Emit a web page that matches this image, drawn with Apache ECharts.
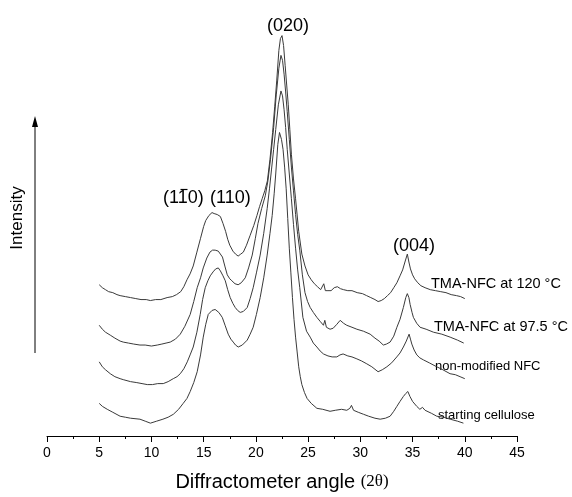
<!DOCTYPE html>
<html>
<head>
<meta charset="utf-8">
<script src="https://cdn.jsdelivr.net/npm/echarts@6/dist/echarts.min.js"></script>
<style>html,body{margin:0;padding:0;background:#fff}#c{width:572px;height:497px}</style>
</head>
<body>
<div id="c"></div>
<script>
// Diffraction angle (2θ) and intensity (a.u., curves offset vertically)
const theta120 = [5.0,5.3,5.6,5.9,6.3,6.7,7.0,7.5,8.0,8.5,9.0,9.5,9.9,10.4,10.9,11.5,12.0,12.4,12.8,13.1,13.4,13.7,14.0,14.35,14.7,15.0,15.2,15.5,15.8,16.0,16.3,16.6,16.85,17.1,17.3,17.5,17.8,18.05,18.3,18.55,18.8,19.1,19.45,19.8,20.1,20.35,20.6,20.85,21.1,21.35,21.6,21.8,22.0,22.2,22.35,22.5,22.65,22.8,22.95,23.1,23.25,23.4,23.6,23.8,24.1,24.4,24.7,25.0,25.3,25.6,25.9,26.2,26.35,26.5,26.65,26.9,27.2,27.5,27.8,28.1,28.4,28.8,29.2,29.7,30.2,30.6,31.0,31.4,31.7,32.0,32.3,32.6,32.9,33.2,33.5,33.8,34.05,34.3,34.5,34.65,34.8,35.0,35.2,35.5,35.8,36.2,36.7,37.2,37.7,38.2,38.7,39.2,39.6,40.0];
const int120 = [153,150,148,146,145,143,142,141,140,139,138,138,137,138,138,140,141,143,146,151,158,164,172,186,200,212,218,223,226,225,224,222,215,207,199,193,187,184,182,184,186,193,203,213,223,232,240,248,258,280,307,333,360,390,402,405,395,375,355,335,310,285,260,240,207,184,172,163,158,154,151,148,150,154,147,147,147,150,151,149,148,147,147,145,144,142,140,138,136,137,139,142,145,150,155,162,168,177,184,176,169,163,159,155,152,150,148,147,146,145,143,142,141,139];

const theta975 = [5.0,5.3,5.6,6.06,6.5,7.0,7.3,7.8,8.3,8.9,9.4,10.0,10.56,11.0,11.4,11.8,12.3,12.76,13.2,13.71,14.05,14.38,14.7,14.96,15.3,15.6,15.85,16.1,16.4,16.8,17.05,17.26,17.5,17.7,18.0,18.3,18.6,18.98,19.3,19.65,19.95,20.2,20.55,20.9,21.15,21.4,21.7,21.95,22.2,22.4,22.55,22.7,22.85,23.0,23.2,23.4,23.6,23.8,24.0,24.2,24.45,24.7,24.95,25.2,25.5,25.84,26.15,26.47,26.6,26.75,27.1,27.4,27.75,28.07,28.4,28.7,29.2,29.67,30.3,30.94,31.4,31.8,32.2,32.5,32.85,33.2,33.5,33.8,34.12,34.35,34.5,34.65,34.77,34.95,35.08,35.4,35.72,36.3,37.0,37.8,38.6,39.3,39.9];
const int975 = [112,108,105,102,99,96,95,94,93,92,92,91,92,93,94,95,98,103,111,123,136,150,160,170,180,186,188,188,187,181,171,163,159,157,154,153,155,160,170,183,200,215,230,243,258,280,312,345,372,385,380,366,348,328,300,272,248,224,204,188,163,145,136,130,125,120,116,112,117,110,108,109,113,117,114,112,110,108,106,103,99,96,92,93,95,101,110,118,130,140,144,140,133,125,120,114,110,108,105,103,100,97,94];

const thetaNFC = [5.0,5.3,5.6,6.06,6.5,7.0,7.3,8.0,8.6,9.1,9.6,10.1,10.6,11.13,11.6,12.09,12.45,12.76,13.1,13.43,13.7,14.0,14.35,14.67,14.9,15.15,15.4,15.63,15.9,16.15,16.4,16.6,16.85,17.07,17.3,17.54,17.8,18.02,18.25,18.5,18.8,19.17,19.45,19.74,20.05,20.41,20.75,21.08,21.3,21.5,21.7,21.9,22.15,22.4,22.55,22.7,22.85,23.0,23.2,23.4,23.6,23.8,24.0,24.2,24.5,24.85,25.2,25.5,25.84,26.15,26.47,26.9,27.3,27.75,28.05,28.35,28.8,29.2,29.67,30.1,30.62,31.1,31.7,32.1,32.54,33.0,33.49,33.8,34.12,34.4,34.67,34.8,34.93,35.15,35.41,35.7,36.04,36.6,37.32,37.9,38.59,39.1,39.55,40.0];
const intNFC = [75,70,67,63,60,58,57,55,54,53,52,52,53,53,55,58,60,63,68,75,82,90,105,123,138,150,157,162,166,169,170,167,162,157,148,140,134,130,127,125,126,130,139,150,165,183,205,230,250,270,290,310,335,349,344,330,312,290,265,240,214,190,168,150,120,106,100,94,90,86,83,81,80,80,82,83,81,80,78,76,73,70,65,67,70,74,80,84,90,96,103,98,93,87,82,79,77,74,70,67,63,62,60,58];

const thetaCell = [5.0,5.3,5.77,6.3,7.0,7.5,8.0,8.9,9.4,9.9,10.5,11.1,11.6,12.1,12.6,13.04,13.4,13.71,14.05,14.38,14.7,14.96,15.2,15.44,15.8,16.1,16.45,16.78,17.05,17.35,17.6,17.83,18.05,18.31,18.7,19.17,19.45,19.74,20.05,20.41,20.75,21.08,21.35,21.56,21.75,21.9,22.1,22.26,22.45,22.6,22.75,22.9,23.05,23.2,23.35,23.5,23.65,23.8,23.95,24.1,24.25,24.4,24.65,24.9,25.3,25.84,26.4,27.1,27.6,28.2,28.7,29.0,29.15,29.35,29.8,30.3,30.8,31.4,31.9,32.4,32.85,33.2,33.5,33.8,34.12,34.35,34.55,34.75,35.0,35.4,35.7,35.95,36.2,36.8,37.32,38.0,38.6,39.3,39.87];
const intCell = [33,30,27,24,20,19,18,17,15,13,15,17,19,22,27,33,38,45,54,65,82,100,113,123,127,128,125,120,112,103,98,95,92,90,92,97,103,110,123,140,160,183,205,223,245,265,295,307,300,290,272,250,220,190,165,140,118,100,85,70,60,52,44,38,33,28,27,25,26,27,26,28,31,26,24,22,20,18,17,18,20,25,30,35,40,43,45,40,35,30,27,29,26,23,20,19,17,15,13];

const xTicks = [0,5,10,15,20,25,30,35,40,45];
const seriesNames = ['TMA-NFC at 120 °C','TMA-NFC at 97.5 °C','non-modified NFC','starting cellulose'];

function pairs(xs, ys){ return xs.map((x,i)=>[x, ys[i]]); }
const sets = [pairs(theta120,int120), pairs(theta975,int975), pairs(thetaNFC,intNFC), pairs(thetaCell,intCell)];

const FONT = "'Liberation Sans', Arial, Helvetica, sans-serif";
const chart = echarts.init(document.getElementById('c'), null, {renderer:'canvas'});

function txt(text, x, y, size, align){
  return {type:'text', x:x, y:y, style:{text:text, font: size+'px '+FONT, fill:'#000',
    align: align||'left', verticalAlign:'middle', textAlign: align||'left', textVerticalAlign:'middle'}};
}

chart.setOption({
  animation:false,
  backgroundColor:'#fff',
  grid:{left:47, right:55, top:1, bottom:56},
  xAxis:{
    type:'value', min:xTicks[0], max:xTicks[xTicks.length-1], interval:5,
    axisLine:{show:true, lineStyle:{color:'#000', width:1}},
    axisTick:{show:true, length:6, lineStyle:{color:'#000'}},
    minorTick:{show:true, splitNumber:2, length:3, lineStyle:{color:'#000'}},
    splitLine:{show:false},
    axisLabel:{color:'#000', fontSize:14, fontFamily:FONT, margin:10},
    name:'{a|Diffractometer angle }{b|(2θ)}',
    nameLocation:'middle', nameGap:36,
    nameTextStyle:{rich:{
      a:{fontSize:20, fontFamily:FONT, color:'#000'},
      b:{fontSize:17, fontFamily:"'Liberation Serif','Times New Roman',serif", color:'#000'}
    }}
  },
  yAxis:{type:'value', min:0, max:440, show:false},
  series: sets.map((d,i)=>({
    name: seriesNames[i], type:'line', data:d, showSymbol:false, symbol:'none',
    lineStyle:{color:'#3a3a3a', width:1}, z:2
  })),
  graphic:[
    {type:'line', shape:{x1:35, y1:353, x2:35, y2:124}, style:{stroke:'#000', lineWidth:1}},
    {type:'polygon', shape:{points:[[35,116],[32,127],[38,127]]}, style:{fill:'#000'}},
    {type:'text', x:17, y:218, rotation:Math.PI/2, style:{text:'Intensity', font:'17px '+FONT, fill:'#000',
      align:'center', verticalAlign:'middle', textAlign:'center', textVerticalAlign:'middle'}},
    txt('(020)', 288, 26, 18, 'center'),
    txt('(110)', 163, 198, 18, 'left'),
    {type:'line', shape:{x1:180.5, y1:189.5, x2:187.5, y2:189.5}, style:{stroke:'#000', lineWidth:1.2}},
    txt('(110)', 210, 198, 18, 'left'),
    txt('(004)', 414, 246, 18, 'center'),
    txt(seriesNames[0], 431, 284, 14.5, 'left'),
    txt(seriesNames[1], 434, 327, 14.5, 'left'),
    txt(seriesNames[2], 435, 366, 13, 'left'),
    txt(seriesNames[3], 438, 415, 13, 'left')
  ]
});
</script>
</body>
</html>
